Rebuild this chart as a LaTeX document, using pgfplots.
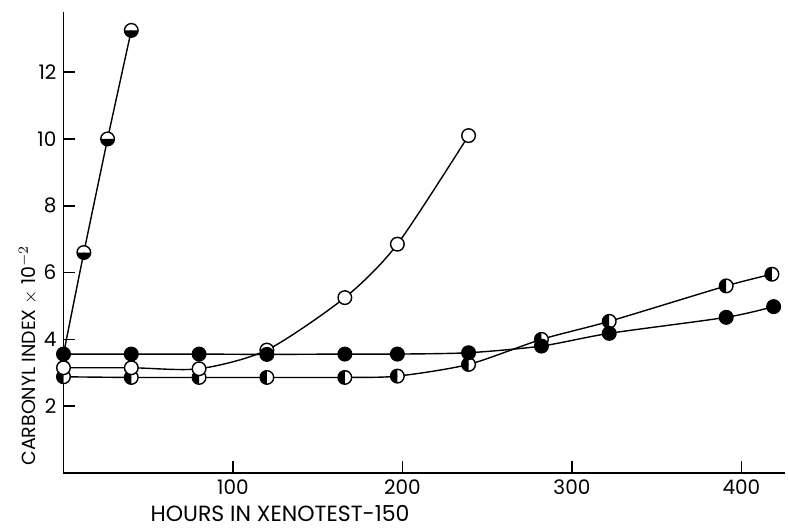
\documentclass[border=0pt]{standalone}
\usepackage{pgfplots}
\pgfplotsset{compat=1.18}
\usetikzlibrary{plotmarks}
\usepackage{fontspec}
\setmainfont{Poppins}
\begin{document}
\begin{tikzpicture}
\useasboundingbox (-31.75pt,-28pt) rectangle (362.25pt,236.5pt);
\begin{axis}[
  at={(0,0)}, anchor=south west,
  width=361pt, height=230.5pt, scale only axis,
  xmin=0, xmax=426, ymin=0, ymax=13.8,
  axis lines=left, axis line style={-, line width=0.8pt},
  xtick={100,200,300,400}, ytick={2,4,6,8,10,12},
  major tick length=6pt, tick style={line width=0.8pt, black},
  tick align=inside,
  ticklabel style={font=\fontsize{10}{12}\selectfont},
  /pgf/number format/assume math mode=true,
  xlabel={HOURS IN XENOTEST-150},
  ylabel={CARBONYL INDEX $\times$ 10$^{-2}$},
  xlabel style={font=\fontsize{11}{13}\selectfont, at={(axis description cs:0.30,-0.088)}, anchor=center},
  ylabel style={font=\fontsize{9.5}{12}\selectfont, at={(axis description cs:-0.049,0.255)}, anchor=center},
  every axis plot/.append style={black, line width=0.7pt, smooth, tension=0.45, mark size=3.4pt},
]
% right-half filled
\addplot[mark=halfcircle*, mark options={fill=white, mark color=black, rotate=-90}] coordinates {
(0,2.88)(40,2.86)(80,2.86)(120,2.86)(166,2.86)(197,2.9)(239,3.25)(282,4.0)(322,4.54)(391,5.6)(418,5.95)};
% open circles
\addplot[mark=*, mark options={fill=white}] coordinates {
(0,3.15)(40,3.15)(80,3.12)(120,3.68)(166,5.25)(197,6.85)(239,10.1)};
% filled circles
\addplot[mark=*, mark options={fill=black}] coordinates {
(0,3.56)(40,3.56)(80,3.56)(120,3.55)(166,3.56)(197,3.56)(239,3.6)(282,3.8)(322,4.18)(391,4.66)(419,4.98)};
% top-half filled
\addplot[mark=halfcircle*, mark options={fill=white, mark color=black}, mark indices={2,3,4}, tension=0.2] coordinates {
(0,3.56)(12,6.6)(26,10.0)(40,13.25)};
\end{axis}
\end{tikzpicture}
\end{document}
